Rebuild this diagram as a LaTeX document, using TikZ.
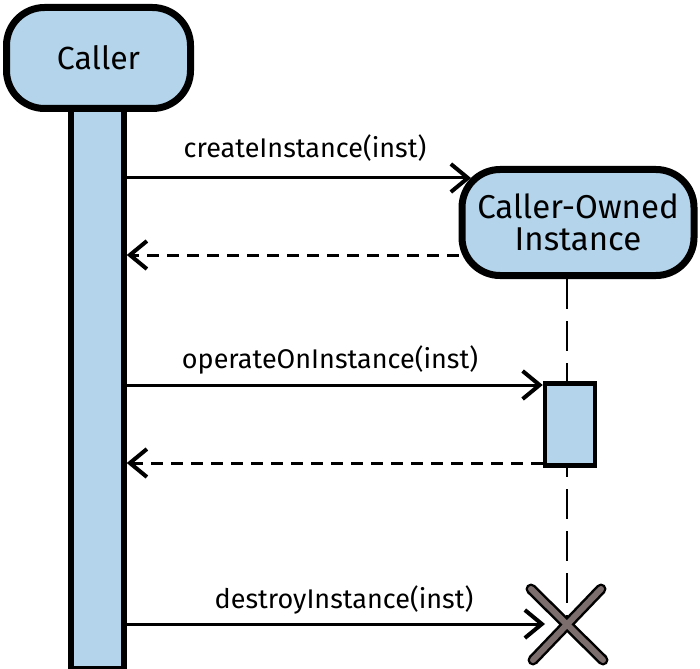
\documentclass[tikz,border=0pt]{standalone}
\usepackage{fontspec}
\setmainfont{Fira Sans}
\usetikzlibrary{arrows.meta}
\definecolor{lblue}{HTML}{B3D4EA}
\definecolor{xgray}{HTML}{7D6E6E}
\tikzset{
  headbox/.style={draw, line width=7pt, fill=lblue, rounded corners=38pt, inner sep=0pt},
  barbox/.style={draw, line width=5.5pt, fill=lblue, inner sep=0pt},
  actbox/.style={draw, line width=4.5pt, fill=lblue, inner sep=0pt},
  msg/.style={line width=3pt, -{Straight Barb[length=17pt,width=28pt,line width=4pt]}},
  ret/.style={msg, dash pattern=on 12pt off 8pt},
  life/.style={line width=2.8pt, dash pattern=on 30pt off 12pt},
  lbl/.style={font=\fontsize{27}{30}\selectfont, inner sep=0pt, anchor=base}
}
\begin{document}
\begin{tikzpicture}[x=1pt,y=-1pt]
\useasboundingbox (0,0) rectangle (700,668);
% caller lifeline bar
\node[barbox, minimum width=53pt, minimum height=562pt] (cbar) at (97.5,388) {};
% caller head
\node[headbox, minimum width=184pt, minimum height=101pt, font=\fontsize{32}{36}\selectfont] (caller) at (98.5,58) {Caller};
% instance head
\node[headbox, minimum width=232pt, minimum height=106pt, align=center, font=\fontsize{33}{32}\selectfont] (inst) at (578,222.5) {Caller-Owned\\Instance};
% end of instance lifeline
\coordinate (xx) at (567,624);
\draw[life] (inst.south -| xx) -- (xx);
% activation
\node[actbox, minimum width=50pt, minimum height=82pt] (act) at (570,424.5) {};
% destroy mark
\draw[line width=11pt, line cap=round] (531,589) -- (603,660) (601,589) -- (533,660);
\draw[line width=6pt, line cap=round, xgray] (531,589) -- (603,660) (601,589) -- (533,660);
% messages
\coordinate (y1) at (0,178);
\coordinate (t1) at (471,178);
\coordinate (y2) at (0,255);
\coordinate (y3) at (0,385);
\coordinate (y4) at (0,463);
\coordinate (t3) at (545,624);
\draw[msg] (cbar.east |- y1) -- (t1);
\node[lbl] (l1) at (305,158) {createInstance(inst)};
\draw[ret] (inst.west |- y2) -- (cbar.east |- y2);
\draw[msg] (cbar.east |- y3) -- (act.west |- y3);
\node[lbl] (l2) at (330,368) {operateOnInstance(inst)};
\draw[ret] (act.west |- y4) -- (cbar.east |- y4);
\draw[msg] (cbar.east |- xx) -- (t3);
\node[lbl] (l3) at (344,608) {destroyInstance(inst)};
\end{tikzpicture}
\end{document}
